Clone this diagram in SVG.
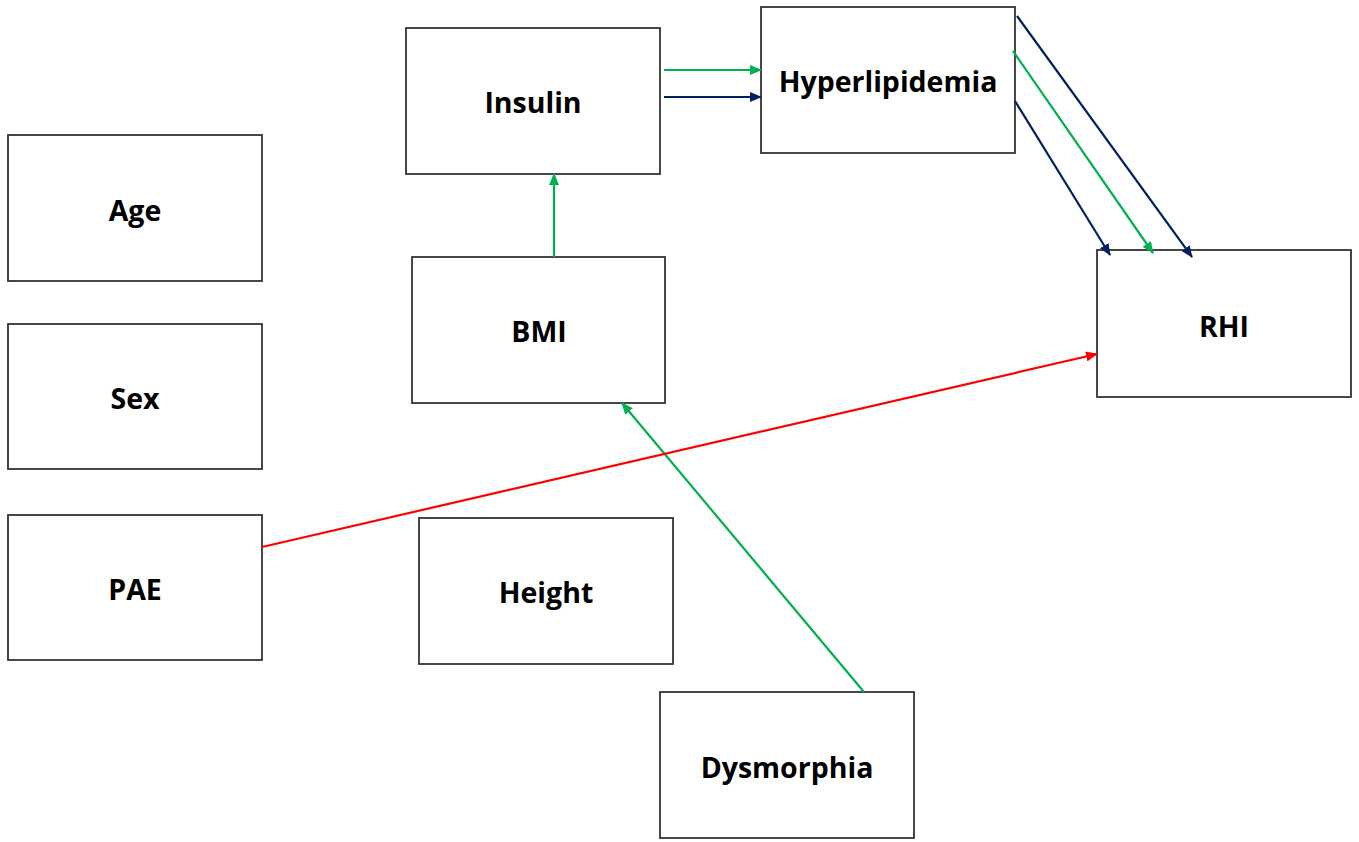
<svg xmlns="http://www.w3.org/2000/svg" width="1359" height="842" viewBox="0 0 1359 842">
<style>
.box{fill:#fff;stroke:#333;stroke-width:1.8}
.lbl{font-family:"Open Sans","Liberation Sans",sans-serif;font-weight:bold;font-size:28.5px;fill:#000;text-anchor:middle;dominant-baseline:central}
.c{fill:none;stroke-width:2.2}
.g{stroke:#00B050}.n{stroke:#002060}.r{stroke:#FF0000}
</style>
<defs>
<marker id="ag" markerUnits="userSpaceOnUse" markerWidth="12" markerHeight="10" refX="11" refY="5" orient="auto"><path d="M0,0 L12,5 L0,10 Z" fill="#00B050"/></marker>
<marker id="an" markerUnits="userSpaceOnUse" markerWidth="12" markerHeight="10" refX="11" refY="5" orient="auto"><path d="M0,0 L12,5 L0,10 Z" fill="#002060"/></marker>
<marker id="ar" markerUnits="userSpaceOnUse" markerWidth="12" markerHeight="10" refX="11" refY="5" orient="auto"><path d="M0,0 L12,5 L0,10 Z" fill="#FF0000"/></marker>
</defs>
<rect width="1359" height="842" fill="#fff"/>
<g id="age"><rect class="box" x="8" y="135" width="254" height="146"/><text class="lbl" x="135" y="210">Age</text></g>
<g id="sex"><rect class="box" x="8" y="324" width="254" height="145"/><text class="lbl" x="135" y="398">Sex</text></g>
<g id="pae"><rect class="box" x="8" y="515" width="254" height="145"/><text class="lbl" x="135" y="589">PAE</text></g>
<g id="insulin"><rect class="box" x="406" y="28" width="254" height="146"/><text class="lbl" x="533" y="102">Insulin</text></g>
<g id="bmi"><rect class="box" x="412" y="257" width="253" height="146"/><text class="lbl" x="539" y="331">BMI</text></g>
<g id="height"><rect class="box" x="419" y="518" width="254" height="146"/><text class="lbl" x="546" y="592">Height</text></g>
<g id="dysmorphia"><rect class="box" x="660" y="692" width="254" height="146"/><text class="lbl" x="787" y="767">Dysmorphia</text></g>
<g id="hyperlipidemia"><rect class="box" x="761" y="7" width="254" height="146"/><text class="lbl" x="888" y="81">Hyperlipidemia</text></g>
<g id="rhi"><rect class="box" x="1097" y="250" width="254" height="147"/><text class="lbl" x="1224" y="326">RHI</text></g>
<g id="connectors">
<line class="c g" x1="664" y1="70" x2="761" y2="70" marker-end="url(#ag)"/>
<line class="c n" x1="664" y1="97" x2="761" y2="97" marker-end="url(#an)"/>
<line class="c n" x1="1017" y1="16" x2="1192" y2="257" marker-end="url(#an)"/>
<line class="c g" x1="1013" y1="51" x2="1153" y2="253" marker-end="url(#ag)"/>
<line class="c n" x1="1015" y1="101" x2="1110" y2="255" marker-end="url(#an)"/>
<line class="c g" x1="554" y1="257" x2="554" y2="174" marker-end="url(#ag)"/>
<line class="c g" x1="864" y1="692" x2="622" y2="403" marker-end="url(#ag)"/>
<line class="c r" x1="262" y1="547" x2="1097" y2="354" marker-end="url(#ar)"/>
</g>
</svg>
